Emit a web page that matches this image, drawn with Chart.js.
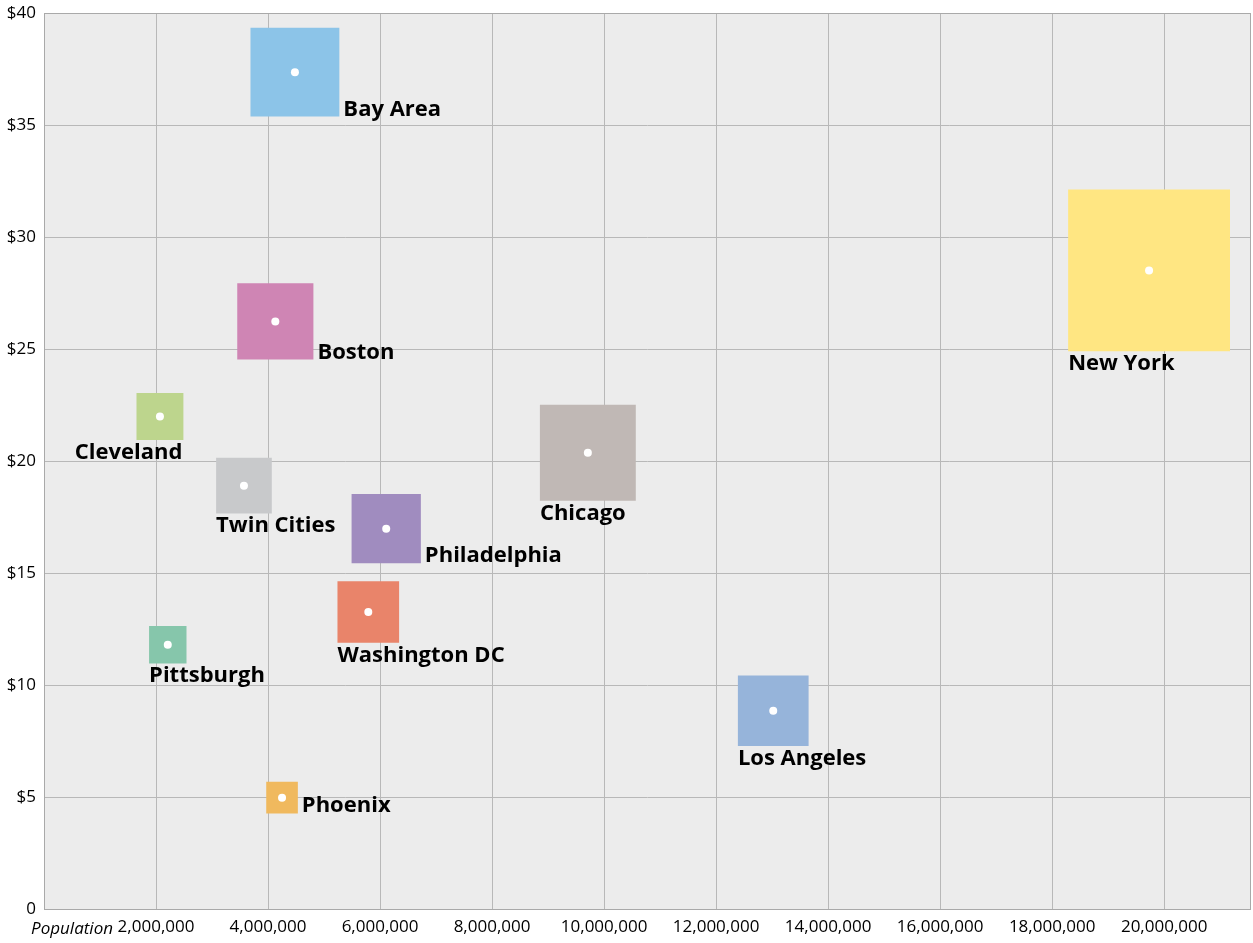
<!DOCTYPE html>
<html>
<head>
<meta charset="utf-8">
<script src="https://cdn.jsdelivr.net/npm/chart.js@4/dist/chart.umd.min.js"></script>
<style>
  html, body { margin: 0; padding: 0; background: #ffffff; }
  #wrap { width: 1253px; height: 943px; }
</style>
</head>
<body>
<div id="wrap"><canvas id="chart" width="1253" height="943"></canvas></div>
<script>
// city data
const cities = ['Bay Area', 'New York', 'Boston', 'Cleveland', 'Twin Cities', 'Chicago',
  'Philadelphia', 'Washington DC', 'Pittsburgh', 'Los Angeles', 'Phoenix'];
const population = [4480000, 19730000, 4130000, 2070000, 3570000, 9710000,
  6110000, 5790000, 2210000, 13020000, 4250000];
const price = [37.36, 28.51, 26.23, 21.99, 18.9, 20.37, 16.98, 13.26, 11.8, 8.85, 4.97];
// third value, shown as square area
const weights = [79, 262, 58, 22, 31, 92, 48, 38, 14, 50, 10];

const xTicks = [0, 2000000, 4000000, 6000000, 8000000, 10000000, 12000000,
  14000000, 16000000, 18000000, 20000000];
const yTicks = [0, 5, 10, 15, 20, 25, 30, 35, 40];

const colors = ['#8cc4e8', '#ffe682', '#cf85b4', '#bdd58d', '#c8c9cb', '#c0b8b5',
  '#a08cbf', '#e9846a', '#86c6ab', '#96b4da', '#f0b95e'];

// where each label sits next to its square
const labelPlace = {
  'Bay Area': 'right', 'Boston': 'right', 'Philadelphia': 'right', 'Phoenix': 'right',
  'Cleveland': 'belowEnd'
};

const points = cities.map(function (c, i) {
  return { x: population[i], y: price[i] };
});

// half side of a square in px, from its weight
function halfSide(i) {
  return 5 * Math.sqrt(weights[i]);
}

const bgPlugin = {
  id: 'plotBg',
  beforeDraw: function (chart) {
    const a = chart.chartArea;
    const ctx = chart.ctx;
    ctx.save();
    ctx.fillStyle = '#ececec';
    ctx.fillRect(a.left, a.top, a.right - a.left, a.bottom - a.top);
    ctx.restore();
  },
  afterDraw: function (chart) {
    const a = chart.chartArea;
    const ctx = chart.ctx;
    ctx.save();
    ctx.strokeStyle = '#a9a9a9';
    ctx.lineWidth = 1;
    ctx.strokeRect(a.left + 0.5, a.top + 0.5, a.right - a.left - 1, a.bottom - a.top);
    // x axis title sits where the 0 tick would be
    ctx.fillStyle = '#000';
    ctx.font = 'italic 17px "Open Sans"';
    ctx.textAlign = 'right';
    ctx.textBaseline = 'middle';
    ctx.fillText('Population', 113, a.bottom + 20);
    ctx.restore();
  }
};

const labelPlugin = {
  id: 'cityLabels',
  afterDatasetsDraw: function (chart) {
    const meta = chart.getDatasetMeta(0);
    const ctx = chart.ctx;
    ctx.save();
    ctx.fillStyle = '#000';
    ctx.font = 'bold 22px "Open Sans"';
    ctx.textBaseline = 'alphabetic';
    meta.data.forEach(function (pt, i) {
      const h = halfSide(i);
      const place = labelPlace[cities[i]] || 'below';
      if (place === 'right') {
        ctx.textAlign = 'left';
        ctx.fillText(cities[i], pt.x + h + 4, pt.y + h - 1);
      } else if (place === 'belowEnd') {
        ctx.textAlign = 'right';
        ctx.fillText(cities[i], pt.x + h - 1, pt.y + h + 19);
      } else {
        ctx.textAlign = 'left';
        ctx.fillText(cities[i], pt.x - h, pt.y + h + 19);
      }
    });
    ctx.restore();
  }
};

new Chart(document.getElementById('chart'), {
  type: 'scatter',
  data: {
    datasets: [{
      data: points,
      order: 1,
      pointStyle: 'rect',
      backgroundColor: colors,
      borderWidth: 0,
      pointRadius: function (c) { return halfSide(c.dataIndex) * Math.SQRT2; },
      pointHoverRadius: function (c) { return halfSide(c.dataIndex) * Math.SQRT2; }
    }, {
      data: points,
      order: 0,
      pointStyle: 'circle',
      backgroundColor: '#ffffff',
      borderWidth: 0,
      pointRadius: 4,
      pointHoverRadius: 4
    }]
  },
  options: {
    responsive: false,
    devicePixelRatio: 1,
    animation: false,
    layout: { autoPadding: false, padding: { top: 13, right: 2, left: 0, bottom: 0 } },
    plugins: {
      legend: { display: false },
      tooltip: { enabled: false }
    },
    scales: {
      x: {
        type: 'linear',
        min: 0,
        max: 21550000,
        afterBuildTicks: function (s) { s.ticks = xTicks.map(function (v) { return { value: v }; }); },
        afterFit: function (s) { s.height = 34; s.paddingLeft = 0; s.paddingRight = 0; },
        grid: { color: '#b8b8b8', drawTicks: false },
        border: { display: false },
        ticks: {
          padding: 8,
          color: '#000',
          font: { family: 'Open Sans', size: 17 },
          maxRotation: 0,
          minRotation: 0,
          autoSkip: false,
          callback: function (v) { return v === 0 ? '' : v.toLocaleString('en-US'); }
        }
      },
      y: {
        type: 'linear',
        min: 0,
        max: 40,
        afterBuildTicks: function (s) { s.ticks = yTicks.map(function (v) { return { value: v }; }); },
        afterFit: function (s) { s.width = 44; s.paddingTop = 0; s.paddingBottom = 0; },
        grid: { color: '#b8b8b8', drawTicks: false },
        border: { display: false },
        ticks: {
          padding: 8,
          color: '#000',
          font: { family: 'Open Sans', size: 17 },
          callback: function (v) { return v === 0 ? '0' : '$' + v; }
        }
      }
    }
  },
  plugins: [bgPlugin, labelPlugin]
});
</script>
</body>
</html>
